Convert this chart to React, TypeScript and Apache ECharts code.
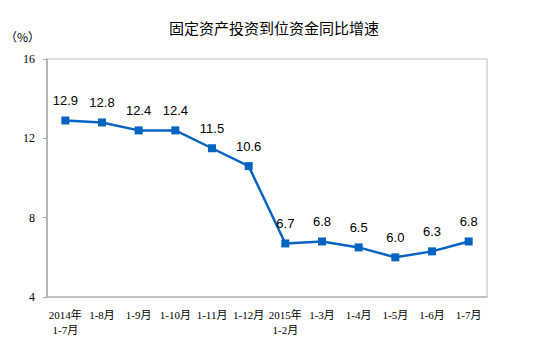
import React, { useEffect, useRef } from "react";
import * as echarts from "echarts";

const categories = [
  "2014年\n1-7月",
  "1-8月",
  "1-9月",
  "1-10月",
  "1-11月",
  "1-12月",
  "2015年\n1-2月",
  "1-3月",
  "1-4月",
  "1-5月",
  "1-6月",
  "1-7月",
];
const growth = [12.9, 12.8, 12.4, 12.4, 11.5, 10.6, 6.7, 6.8, 6.5, 6.0, 6.3, 6.8];
const titleText = "固定资产投资到位资金同比增速";
const unitText = "（%）";

const serif = "'Liberation Serif', 'Noto Sans CJK SC', serif";
const sans = "'Liberation Sans', Arial, sans-serif";

export default function App() {
  const ref = useRef<HTMLDivElement>(null);
  useEffect(() => {
    if (!ref.current) return;
    const chart = echarts.init(ref.current, null, { renderer: "svg" });
    chart.setOption({
      animation: false,
      backgroundColor: "#ffffff",
      title: {
        text: titleText,
        left: 269,
        textAlign: "center",
        top: 15,
        textStyle: {
          fontSize: 15,
          fontWeight: "normal",
          color: "#000",
          fontFamily: "'Noto Sans CJK SC', sans-serif",
        },
      },
      graphic: [
        {
          type: "text",
          left: 5,
          top: 30,
          style: {
            text: unitText,
            fontSize: 12,
            fill: "#000",
            fontFamily: "'Noto Sans CJK SC', serif",
          },
        },
      ],
      grid: {
        left: 47,
        right: 66,
        top: 59,
        bottom: 65,
        show: true,
        borderColor: "#b8b8b8",
        borderWidth: 1,
      },
      xAxis: {
        type: "category",
        data: categories,
        boundaryGap: true,
        axisLine: { lineStyle: { color: "#b8b8b8", width: 1.5 } },
        axisTick: { inside: true, length: 5, lineStyle: { color: "#b8b8b8" } },
        axisLabel: {
          interval: 0,
          color: "#000",
          fontSize: 11,
          fontFamily: serif,
          margin: 10,
          lineHeight: 15,
        },
      },
      yAxis: {
        type: "value",
        min: 4,
        max: 16,
        interval: 4,
        splitLine: { show: false },
        axisLine: { show: true, lineStyle: { color: "#a8a8a8", width: 1.5 } },
        axisTick: { show: true, length: 4, lineStyle: { color: "#a8a8a8" } },
        axisLabel: {
          color: "#000",
          fontSize: 12,
          fontFamily: serif,
          margin: 12,
        },
      },
      series: [
        {
          type: "line",
          data: growth,
          symbol: "rect",
          symbolSize: 8,
          lineStyle: { color: "#0563c1", width: 2.5 },
          itemStyle: { color: "#0563c1" },
          label: {
            show: true,
            position: "top",
            distance: 9,
            fontSize: 13,
            color: "#000",
            fontFamily: sans,
            formatter: (p: any) => p.value.toFixed(1),
          },
        },
      ],
    });
    return () => chart.dispose();
  }, []);
  return (
    <div
      ref={ref}
      style={{ position: "fixed", left: 0, top: 0, width: 553, height: 362 }}
    />
  );
}
